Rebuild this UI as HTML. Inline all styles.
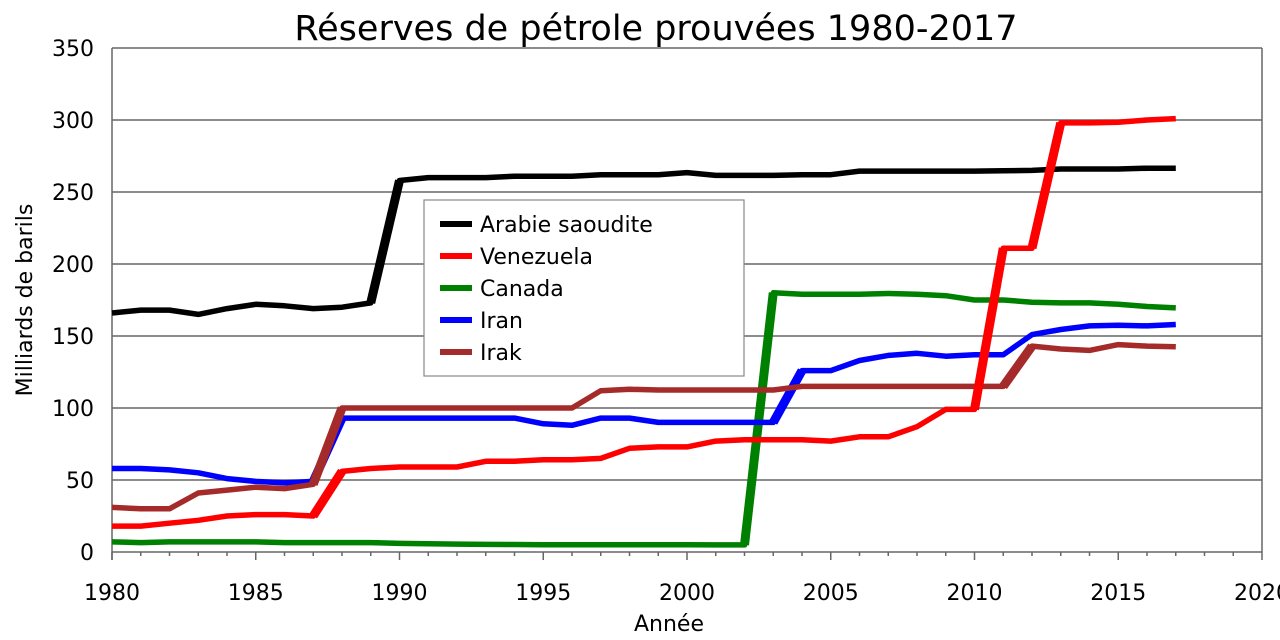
<!DOCTYPE html>
<html><head><meta charset="utf-8"><style>
body{margin:0;background:#fff}
svg{display:block;font-family:"DejaVu Sans","Liberation Sans",sans-serif}
</style></head><body>
<svg id="s" width="1280" height="640" xmlns="http://www.w3.org/2000/svg">
<text x="656" y="40" font-size="35" text-anchor="middle">Réserves de pétrole prouvées 1980-2017</text>
<g id="grid" stroke="#666" stroke-width="1.5"></g>
<g id="lab" font-size="22"></g>
<text x="669" y="631" font-size="22" text-anchor="middle">Année</text>
<text transform="translate(32,300) rotate(-90)" font-size="22" text-anchor="middle">Milliards de barils</text>
<g id="ser" fill="none" stroke-width="5.5" stroke-linejoin="round"></g>
<rect x="424" y="200" width="320" height="176" fill="#fff" stroke="#888" stroke-width="1.2"/>
<g id="leg" font-size="22"></g>
</svg>
<script>
var NS="http://www.w3.org/2000/svg";
function el(p,t,a,txt){var e=document.createElementNS(NS,t);for(var k in a)e.setAttribute(k,a[k]);if(txt!=null)e.textContent=txt;document.getElementById(p).appendChild(e);}
function X(y){return 112+(y-1980)*28.75}
function Y(v){return 552-v*1.44}
for(var v=50;v<=350;v+=50)el("grid","line",{x1:112,x2:1262,y1:Y(v),y2:Y(v)});
el("grid","line",{x1:1262,x2:1262,y1:48,y2:552});
el("grid","line",{x1:112,x2:112,y1:48,y2:560});
el("grid","line",{x1:112,x2:1262,y1:552,y2:552});
for(var y=1980;y<=2020;y++)el("grid","line",{x1:X(y),x2:X(y),y1:552,y2:y%5==0?560:556});
for(var v=0;v<=350;v+=50)el("lab","text",{x:94,y:Y(v)+8,"text-anchor":"end"},v);
for(var y=1980;y<=2020;y+=5)el("lab","text",{x:X(y),y:600,"text-anchor":"middle"},y);
var D={
sa:[166,168,168,165,169,172,171,169,170,173,258,260,260,260,261,261,261,262,262,262,263.5,261.5,261.5,261.5,262,262,264.5,264.5,264.5,264.5,264.5,264.7,265,266,266,266,266.5,266.5],
ve:[18,18,20,22,25,26,26,25,56,58,59,59,59,63,63,64,64,65,72,73,73,77,78,78,78,77,80,80,87,99,99,211,211,298,298,298.5,300,301],
ca:[7,6.5,7,7,7,7,6.5,6.5,6.5,6.5,6,5.7,5.5,5.3,5.2,5.1,5,5,5,5,5,4.9,4.9,180,179,179,179,179.5,179,178,175,175,173.5,173,173,172,170.5,169.5],
ir:[58,58,57,55,51,49,48,49,93,93,93,93,93,93,93,89,88,93,93,90,90,90,90,90,126,126,133,136.5,138,136,137,137,151,154.5,157,157.5,157,158],
iq:[31,30,30,41,43,45,44,47,100,100,100,100,100,100,100,100,100,112,113,112.5,112.5,112.5,112.5,112.5,115,115,115,115,115,115,115,115,143,141,140,144,143,142.5]};
var C={sa:"#000",ve:"#f00",ca:"#008000",ir:"#00f",iq:"#a52a2a"};
["ca","ir","iq","sa","ve"].forEach(function(k){var d=D[k];var p=d.map(function(v,i){return X(1980+i).toFixed(1)+","+Y(v).toFixed(1)}).join(" ");el("ser","polyline",{points:p,stroke:C[k]});
for(var i=1;i<d.length;i++)if(Math.abs(d[i]-d[i-1])>20)el("ser","line",{x1:X(1979+i),y1:Y(d[i-1]),x2:X(1980+i),y2:Y(d[i]),stroke:C[k],"stroke-width":9});});
var L=[["sa","Arabie saoudite"],["ve","Venezuela"],["ca","Canada"],["ir","Iran"],["iq","Irak"]];
L.forEach(function(l,i){var yy=224+i*32;el("leg","line",{x1:440,x2:472,y1:yy,y2:yy,stroke:C[l[0]],"stroke-width":6});el("leg","text",{x:480,y:yy+8},l[1]);});
</script>
</body></html>
